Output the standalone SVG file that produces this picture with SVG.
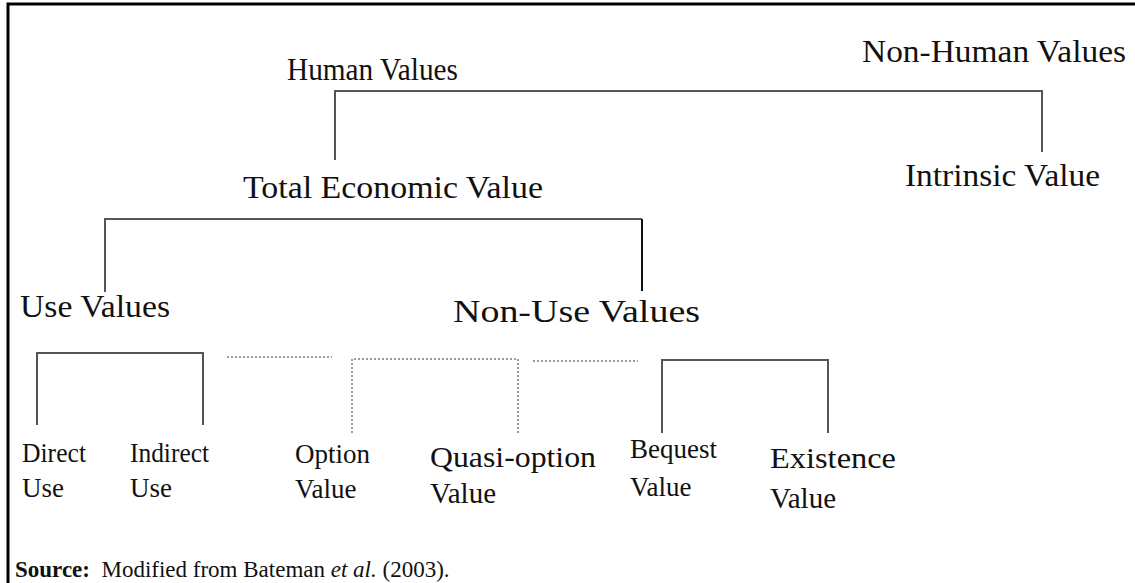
<svg xmlns="http://www.w3.org/2000/svg" width="1135" height="583" viewBox="0 0 1135 583">
<style>
text{font-family:"Liberation Serif","Times New Roman",serif;fill:#111;}
.lbl{font-size:31px;}
.sub{font-size:27px;}
.sub2{font-size:29px;}
.src{font-size:23px;}
.ln{stroke:#555;stroke-width:2;fill:none;}
.dk{stroke:#111;stroke-width:2;fill:none;}
.dot{stroke:#999;stroke-width:2;stroke-dasharray:2 2;fill:none;}
</style>
<rect width="1135" height="583" fill="#fff"/>
<g id="frame">
<path d="M8,583 V4 H1135" stroke="#000" stroke-width="3" fill="none"/>
</g>
<g id="connectors">
<path class="ln" d="M335,160 V91 H1042 V152"/>
<path class="ln" d="M105,292 V219 H642"/>
<path class="dk" d="M642,219 V291"/>
<path class="ln" d="M37,425 V353 H203 V425"/>
<path class="dot" d="M227,357 H332"/>
<path class="dot" d="M352,433 V359 H518 V433"/>
<path class="dot" d="M533,361 H638"/>
<path class="ln" d="M662,433 V360 H828 V433"/>
</g>
<g id="human-values"><text class="lbl" x="287" y="80" textLength="171" lengthAdjust="spacingAndGlyphs">Human Values</text></g>
<g id="non-human-values"><text class="lbl" x="862" y="62" textLength="264" lengthAdjust="spacingAndGlyphs">Non-Human Values</text></g>
<g id="total-economic-value"><text class="lbl" x="243" y="198" textLength="300" lengthAdjust="spacingAndGlyphs">Total Economic Value</text></g>
<g id="intrinsic-value"><text class="lbl" x="905" y="186" textLength="195" lengthAdjust="spacingAndGlyphs">Intrinsic Value</text></g>
<g id="use-values"><text class="lbl" x="20" y="317" textLength="150" lengthAdjust="spacingAndGlyphs">Use Values</text></g>
<g id="non-use-values"><text class="lbl" x="453" y="322" textLength="247" lengthAdjust="spacingAndGlyphs">Non-Use Values</text></g>
<g id="direct-use"><text class="sub" x="22" y="462" textLength="64" lengthAdjust="spacingAndGlyphs">Direct</text><text class="sub" x="22" y="497">Use</text></g>
<g id="indirect-use"><text class="sub" x="130" y="462" textLength="79" lengthAdjust="spacingAndGlyphs">Indirect</text><text class="sub" x="130" y="497">Use</text></g>
<g id="option-value"><text class="sub" x="295" y="463">Option</text><text class="sub" x="295" y="498">Value</text></g>
<g id="quasi-option-value"><text class="sub2" x="430" y="467" textLength="166" lengthAdjust="spacingAndGlyphs">Quasi-option</text><text class="sub2" x="430" y="503">Value</text></g>
<g id="bequest-value"><text class="sub" x="630" y="458">Bequest</text><text class="sub" x="630" y="496">Value</text></g>
<g id="existence-value"><text class="sub2" x="770" y="468" textLength="126" lengthAdjust="spacingAndGlyphs">Existence</text><text class="sub2" x="770" y="508">Value</text></g>
<g id="source"><text class="src" x="15" y="577" xml:space="preserve"><tspan font-weight="bold">Source:</tspan>  Modified from Bateman <tspan font-style="italic">et al.</tspan> (2003).</text></g>
</svg>
